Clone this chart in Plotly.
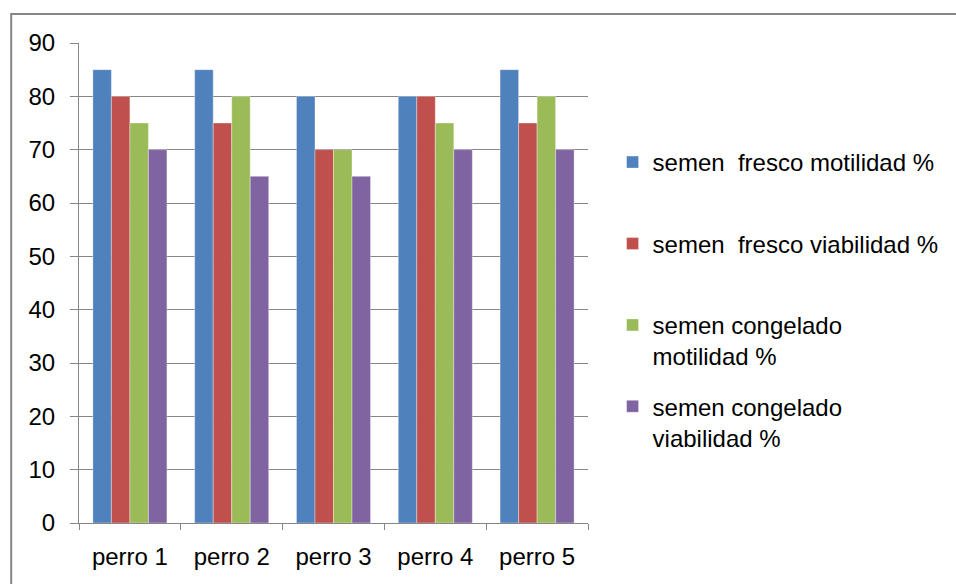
import plotly.graph_objects as go

categories = ["perro 1", "perro 2", "perro 3", "perro 4", "perro 5"]
fresco_motilidad = [85, 85, 80, 80, 85]
fresco_viabilidad = [80, 75, 70, 80, 75]
congelado_motilidad = [75, 80, 70, 75, 80]
congelado_viabilidad = [70, 65, 65, 70, 70]

series_names = [
    "semen\u00a0 fresco motilidad %<br>\u00a0",
    "semen\u00a0 fresco viabilidad %<br>\u00a0",
    "semen congelado<br>motilidad %",
    "semen congelado<br>viabilidad %",
]
series_values = [fresco_motilidad, fresco_viabilidad, congelado_motilidad, congelado_viabilidad]
colors = ["#4F81BD", "#C0504D", "#9BBB59", "#8064A2"]

FONT = "Liberation Sans"
fig = go.Figure()
for i, (name, vals, col) in enumerate(zip(series_names, series_values, colors)):
    fig.add_trace(go.Bar(
        x=categories, y=vals, name=name,
        marker=dict(color=col, line=dict(width=1, color="rgba(255,255,255,0.35)")),
        legendgroup=f"g{i}",
    ))

L, R, T, B = 79, 597, 43, 523
W, H = 956, 584
fig.update_layout(
    width=W, height=H,
    margin=dict(l=L, r=W - R, t=T, b=H - B, pad=0),
    paper_bgcolor="white", plot_bgcolor="white",
    barmode="group", bargap=0.2727, bargroupgap=0,
    font=dict(family=FONT, size=24, color="black"),
    showlegend=True,
    legend=dict(
        x=(622 - L) / (R - L), xanchor="left",
        y=(B - 140) / (B - T), yanchor="top",
        valign="top", tracegroupgap=16,
        font=dict(family=FONT, size=24, color="black"),
        bgcolor="rgba(0,0,0,0)",
    ),
    xaxis=dict(
        showline=True, linecolor="#868686", linewidth=1,
        ticks="outside", ticklen=6, tickcolor="#868686", tickson="boundaries",
        showgrid=False, ticklabelstandoff=12,
    ),
    yaxis=dict(
        range=[0, 90], dtick=10, showline=True, linecolor="#868686", linewidth=1,
        ticks="outside", ticklen=8, tickcolor="#868686",
        showgrid=True, gridcolor="#868686", gridwidth=1,
        zeroline=False, ticklabelstandoff=10,
    ),
    shapes=[dict(
        type="rect", xref="paper", yref="paper",
        x0=(10 - L) / (R - L), x1=2.0,
        y0=-1.0, y1=(B - 14) / (B - T),
        line=dict(color="#868686", width=2), fillcolor="rgba(0,0,0,0)",
    )],
)

fig.write_html(
    "out.html",
    config={"displayModeBar": False},
    post_script="document.body.style.margin='0';document.body.style.overflow='hidden';",
)
